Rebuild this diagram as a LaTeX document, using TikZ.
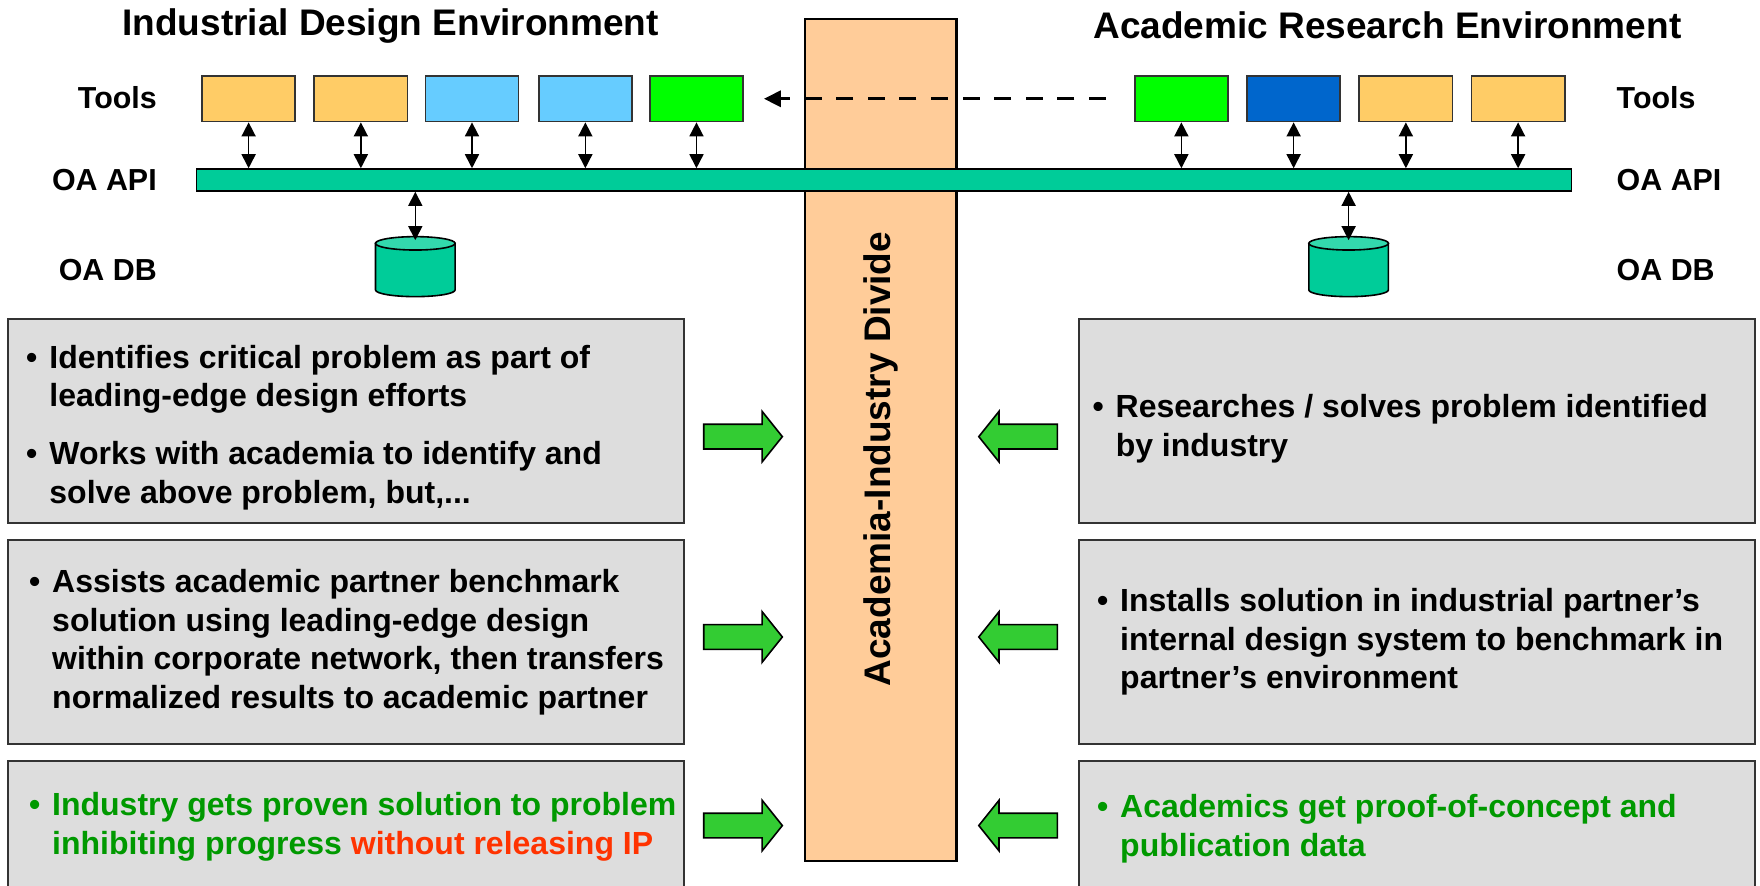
\documentclass[tikz,border=0pt]{standalone}
\usepackage{fontspec}
\setmainfont{Liberation Sans}
\usetikzlibrary{arrows.meta}
\definecolor{toolorange}{HTML}{FFCC66}
\definecolor{toolblue}{HTML}{66CCFF}
\definecolor{toolgreen}{HTML}{00FF00}
\definecolor{tooldark}{HTML}{0066CC}
\definecolor{apigreen}{HTML}{00CC99}
\definecolor{dbtop}{HTML}{33D9AD}
\definecolor{dividefill}{HTML}{FFCC99}
\definecolor{panelgray}{HTML}{DDDDDD}
\definecolor{arrowgreen}{HTML}{33CC33}
\definecolor{textgreen}{HTML}{009900}
\definecolor{textred}{HTML}{FF3300}

\begin{document}
\begin{tikzpicture}
[x=0.5612pt, y=-0.5612pt, font=\bfseries,
 tool/.style={rectangle,draw=black!80,line width=0.8pt,inner sep=0pt,minimum width=46.6pt,minimum height=22.8pt},
 sidelabel/.style={font=\fontsize{15.2}{18}\selectfont\bfseries,inner sep=0pt},
 envtitle/.style={font=\fontsize{18.5}{22}\selectfont\bfseries,inner sep=0pt},
 panel/.style={rectangle,draw=black!80,fill=panelgray,line width=1pt,inner sep=0pt,minimum width=337.8pt,minimum height=102.1pt},
 bullets/.style={font=\fontsize{16}{19.3}\selectfont\bfseries,inner sep=0pt,anchor=base west},
 dbbody/.style={draw,line width=0.8pt,fill=apigreen},
 dbend/.style={draw,line width=0.8pt,fill=dbtop},
 dbl/.style={<->,line width=0.8pt,>={Triangle[length=7pt,width=7pt]}},
 garrow/.style={draw=black,line width=0.8pt,fill=arrowgreen,line join=miter},
 dasharrow/.style={-{Triangle[length=8.5pt,width=8pt]},line width=1.7pt,dash pattern=on 8.5pt off 7.3pt}]
\useasboundingbox (0,0) rectangle (1568,789);
% the divide and the API bar
\node[draw,line width=1.2pt,fill=dividefill,minimum width=75.8pt,minimum height=420.9pt,inner sep=0pt] (divide) at (784.5,392) {};
\node[rotate=90,envtitle] (dividetext) at (785,409) {Academia-Industry Divide};
\node[draw,line width=0.8pt,fill=apigreen,minimum width=687.5pt,minimum height=11pt,inner sep=0pt] (api) at (787.5,160.4) {};
% titles and side labels
\node[envtitle,anchor=base] (indtitle) at (348,31.2) {Industrial Design Environment};
\node[envtitle,anchor=base] (acatitle) at (1236,34.2) {Academic Research Environment};
\node[sidelabel,anchor=east] (tools-l) at (140,87) {Tools};
\node[sidelabel,anchor=east] (api-l)   at (140,160) {OA API};
\node[sidelabel,anchor=east] (db-l)    at (140,241) {OA DB};
\node[sidelabel,anchor=west] (tools-r) at (1440,87) {Tools};
\node[sidelabel,anchor=west] (api-r)   at (1440,160) {OA API};
\node[sidelabel,anchor=west] (db-r)    at (1440,241) {OA DB};
% tools
\node[tool,fill=toolorange] (lt1) at (221.5,88) {};
\node[tool,fill=toolorange] (lt2) at (321.5,88) {};
\node[tool,fill=toolblue]   (lt3) at (420.5,88) {};
\node[tool,fill=toolblue]   (lt4) at (521.5,88) {};
\node[tool,fill=toolgreen]  (lt5) at (620.5,88) {};
\node[tool,fill=toolgreen]  (rt1) at (1052.5,88) {};
\node[tool,fill=tooldark]   (rt2) at (1152.5,88) {};
\node[tool,fill=toolorange] (rt3) at (1252.5,88) {};
\node[tool,fill=toolorange] (rt4) at (1352.5,88) {};
\foreach \t in {lt1,lt2,lt3,lt4,lt5,rt1,rt2,rt3,rt4}
  \draw[dbl] (\t.south) -- (\t.south |- api.north);
\draw[dasharrow,shorten <=14pt,shorten >=10pt] (rt1.west) -- (lt5.east);
% databases
\foreach \dx/\dn in {370/db1,1201.5/db2}{
  \begin{scope}[shift={(\dx,216.8)},x=1pt,y=1pt]
    \filldraw[dbbody] (-19.9,0) -- (-19.9,-23.3)
      arc[start angle=180,end angle=360,x radius=19.9,y radius=3.35] -- (19.9,0) -- cycle;
    \filldraw[dbend] (0,0) ellipse[x radius=19.9,y radius=3.35];
    \coordinate (\dn) at (0,1.6);
  \end{scope}
}
\draw[dbl] (api.south -| db1) -- (db1);
\draw[dbl] (api.south -| db2) -- (db2);
% panels
\node[panel] (pl1) at (308,375) {};
\node[panel] (pl2) at (308,572) {};
\node[panel,minimum height=62.9pt] (pl3) at (308,734) {};
\node[panel] (pr1) at (1262.5,375) {};
\node[panel] (pr2) at (1262.5,572) {};
\node[panel,minimum height=62.9pt] (pr3) at (1262.5,734) {};
\node[bullets] (tl1) at (23,328) {\begin{tabular}[t]{@{}p{11.6pt}@{}l@{}}
\textbullet & Identifies critical problem as part of\\
 & leading-edge design efforts\\[9.8pt]
\textbullet & Works with academia to identify and\\
 & solve above problem, but,...
\end{tabular}};
\node[bullets] (tl2) at (25.5,528) {\begin{tabular}[t]{@{}p{11.6pt}@{}l@{}}
\textbullet & Assists academic partner benchmark\\
 & solution using leading-edge design\\
 & within corporate network, then transfers\\
 & normalized results to academic partner
\end{tabular}};
\node[bullets,text=textgreen] (tl3) at (25.5,726.7) {\begin{tabular}[t]{@{}p{11.6pt}@{}l@{}}
\textbullet & Industry gets proven solution to problem\\
 & inhibiting progress \textcolor{textred}{without releasing IP}
\end{tabular}};
\node[bullets] (tr1) at (973,372) {\begin{tabular}[t]{@{}p{11.6pt}@{}l@{}}
\textbullet & Researches / solves problem identified\\
 & by industry
\end{tabular}};
\node[bullets] (tr2) at (977,545) {\begin{tabular}[t]{@{}p{11.6pt}@{}l@{}}
\textbullet & Installs solution in industrial partner’s\\
 & internal design system to benchmark in\\
 & partner’s environment
\end{tabular}};
\node[bullets,text=textgreen] (tr3) at (977,728.4) {\begin{tabular}[t]{@{}p{11.6pt}@{}l@{}}
\textbullet & Academics get proof-of-concept and\\
 & publication data
\end{tabular}};
% block arrows towards the divide
\foreach \ay in {389,567.5,735.5}{
  \draw[garrow] (627,\ay-11) -- (679,\ay-11) -- (679,\ay-22.5) -- (697,\ay)
    -- (679,\ay+22.5) -- (679,\ay+11) -- (627,\ay+11) -- cycle;
  \draw[garrow] (942,\ay-11) -- (890,\ay-11) -- (890,\ay-22.5) -- (872,\ay)
    -- (890,\ay+22.5) -- (890,\ay+11) -- (942,\ay+11) -- cycle;
}
\end{tikzpicture}
\end{document}
